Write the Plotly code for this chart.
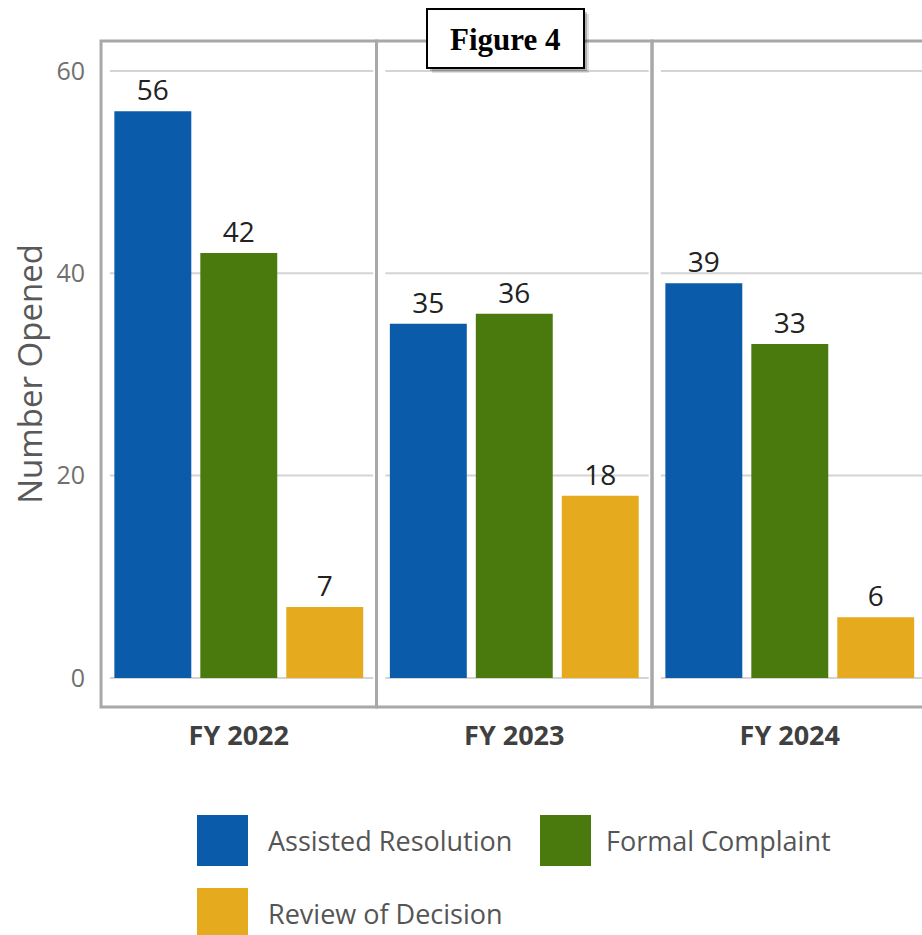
import plotly.graph_objects as go

# ---------------- data ----------------
categories = ["FY 2022", "FY 2023", "FY 2024"]
series_names = ["Assisted Resolution", "Formal Complaint", "Review of Decision"]
assisted_resolution = [56, 35, 39]
formal_complaint = [42, 36, 33]
review_of_decision = [7, 18, 6]
y_tick_values = [0, 20, 40, 60]
y_tick_labels = ["0", "20", "40", "60"]
title_text = "Figure 4"
y_axis_title = "Number Opened"

# ---------------- style ----------------
colors = ["#0A5BAA", "#4A7A0E", "#E6AA1F"]
FONT = "Open Sans"
W, H = 922, 935
M_L, M_R, M_T, M_B = 98, 0, 38, 225
PW = W - M_L - M_R
PH = H - M_T - M_B
Y_RANGE = [-3.17, 63.25]
X_RANGE = [-0.511, -0.511 + PW / 275.5]
PANEL_Y = [-2.87, 62.95]


def pxx(px):
    return (px - M_L) / PW


def pxy(py):
    return (H - M_B - py) / PH


fig = go.Figure()
series_values = [assisted_resolution, formal_complaint, review_of_decision]
for name, vals, col in zip(series_names, series_values, colors):
    fig.add_trace(go.Bar(
        x=categories, y=vals, name=name,
        marker=dict(color=col, line=dict(width=0)),
        text=[str(v) for v in vals], textposition="outside",
        textfont=dict(family=FONT, size=28, color="#222222"),
        cliponaxis=False, showlegend=False,
    ))

shapes = []
# per-panel gridlines
for i in range(len(categories)):
    for t in y_tick_values:
        shapes.append(dict(type="line", xref="x", yref="y",
                           x0=i - 0.5 + 0.032, x1=i + 0.5 - 0.012, y0=t, y1=t,
                           line=dict(color="#D4D4D4", width=2), layer="below"))
# panel borders
for i in range(len(categories)):
    shapes.append(dict(type="rect", xref="x", yref="y",
                       x0=i - 0.5, x1=i + 0.5, y0=PANEL_Y[0], y1=PANEL_Y[1],
                       line=dict(color="#A8A8A8", width=3), layer="above"))

# title box with shadow
bx0, bx1, by0, by1 = 427, 584, 9, 68
shapes.append(dict(type="rect", xref="paper", yref="paper",
                   x0=pxx(bx0 + 5), x1=pxx(bx1 + 5), y0=pxy(by1 + 5), y1=pxy(by0 + 5),
                   fillcolor="rgba(0,0,0,0.12)", line=dict(width=0), layer="above"))
shapes.append(dict(type="rect", xref="paper", yref="paper",
                   x0=pxx(bx0 + 3), x1=pxx(bx1 + 3), y0=pxy(by1 + 3), y1=pxy(by0 + 3),
                   fillcolor="rgba(0,0,0,0.22)", line=dict(width=0), layer="above"))
shapes.append(dict(type="rect", xref="paper", yref="paper",
                   x0=pxx(bx0), x1=pxx(bx1), y0=pxy(by1), y1=pxy(by0),
                   fillcolor="white", line=dict(color="black", width=2), layer="above"))

annotations = [dict(xref="paper", yref="paper", x=pxx((bx0 + bx1) / 2), y=pxy((by0 + by1) / 2 + 1),
                    text="<b>" + title_text + "</b>", showarrow=False,
                    xanchor="center", yanchor="middle",
                    font=dict(family="Liberation Serif", size=31, color="black"))]

# custom legend with large swatches
legend_items = [(197, 815, 266), (540, 815, 604), (197, 888, 266)]
for (sx, sy, tx), name, col in zip(legend_items, series_names, colors):
    shapes.append(dict(type="rect", xref="paper", yref="paper",
                       x0=pxx(sx), x1=pxx(sx + 51), y0=pxy(sy + 51), y1=pxy(sy),
                       fillcolor=col, line=dict(width=0)))
    annotations.append(dict(xref="paper", yref="paper", x=pxx(tx), y=pxy(sy + 25),
                            text=name, showarrow=False, xanchor="left", yanchor="middle",
                            font=dict(family=FONT, size=27, color="#555555")))

fig.update_layout(
    width=W, height=H,
    margin=dict(l=M_L, r=M_R, t=M_T, b=M_B, pad=0),
    paper_bgcolor="white", plot_bgcolor="white",
    barmode="group", bargap=0.064, bargroupgap=0.105,
    showlegend=False,
    shapes=shapes, annotations=annotations,
    xaxis=dict(range=X_RANGE, showgrid=False, zeroline=False, showline=False,
               ticks="", ticklabelstandoff=7,
               tickfont=dict(family=FONT, size=27, color="#404040", weight="bold"),
               fixedrange=True),
    yaxis=dict(range=Y_RANGE, tickvals=y_tick_values, ticktext=y_tick_labels,
               showgrid=False, zeroline=False, showline=False, ticks="",
               ticklabelstandoff=12,
               tickfont=dict(family=FONT, size=25, color="#707070"),
               title=dict(text=y_axis_title, standoff=3,
                          font=dict(family=FONT, size=33, color="#595959")),
               fixedrange=True),
)

fig.write_html("out.html", config={"displayModeBar": False})
